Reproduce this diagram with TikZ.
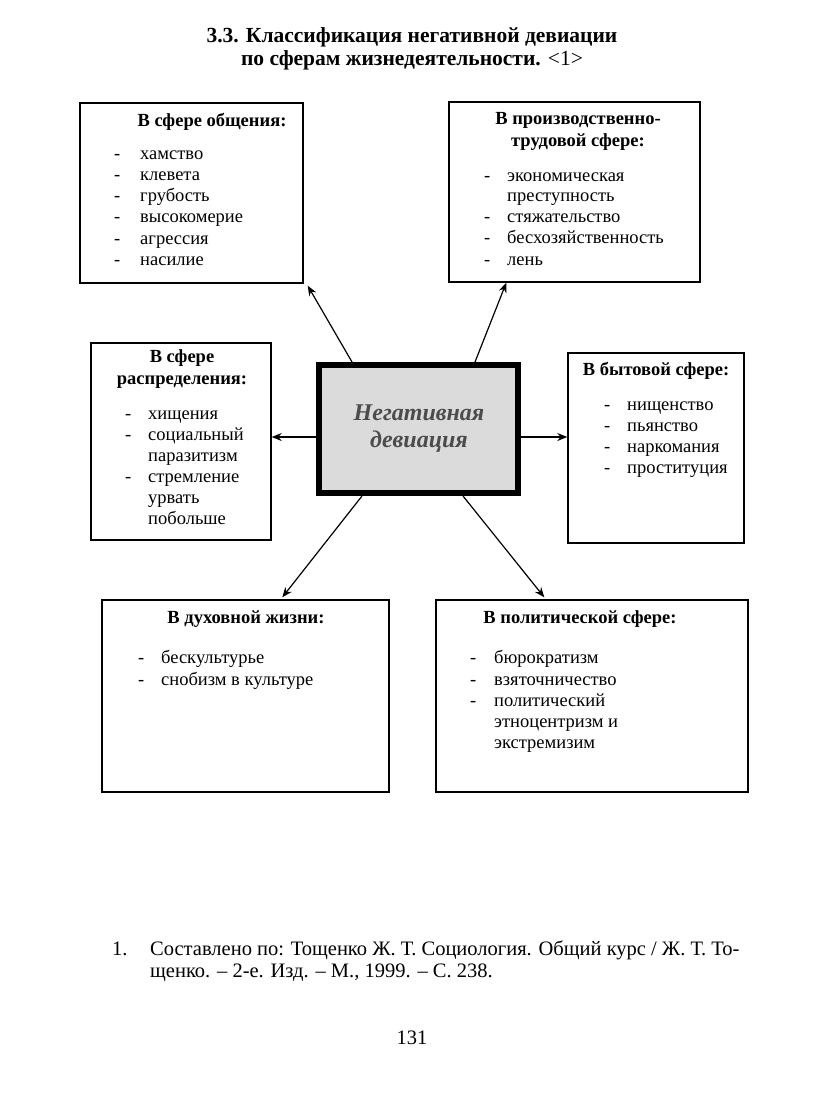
\documentclass[tikz,border=0pt]{standalone}
\usepackage{fontspec}
\setmainfont{Liberation Serif}
\usetikzlibrary{arrows.meta,calc}
\begin{document}
\begin{tikzpicture}[x=1pt,y=-1pt,
  box/.style={draw,line width=1.4pt,minimum width=#1,inner sep=0pt},
  hd/.style={font=\fontsize{18.5}{22}\selectfont\bfseries,align=center,inner sep=0pt},
  it/.style={font=\fontsize{18.5}{21}\selectfont,anchor=mid west,inner sep=0pt},
  dsh/.style={font=\fontsize{18.5}{21}\selectfont,anchor=mid west,inner sep=0pt},
  arr/.style={line width=1.2pt,-{Stealth[length=10pt,width=8pt]}}]
\path[use as bounding box,fill=white] (0,0) rectangle (823,1098);
% title
\node[font=\fontsize{21.5}{24}\selectfont\bfseries,inner sep=0pt] (t1) at (412,37) {3.3. Классификация негативной девиации};
\node[font=\fontsize{21.5}{24}\selectfont,inner sep=0pt] (t2) at (412,60) {\bfseries по сферам жизнедеятельности. \mdseries<1>};
% boxes
\node[box=223pt,minimum height=180pt] (b1) at (191.5,193) {};
\node[box=251pt,minimum height=180pt] (b2) at (574.5,192) {};
\node[box=180pt,minimum height=197pt] (b3) at (181,441.5) {};
\node[box=176pt,minimum height=190pt] (b4) at (656,448) {};
\node[box=287pt,minimum height=192pt] (b5) at (245.5,696) {};
\node[box=312pt,minimum height=192pt] (b6) at (592,696) {};
\node[draw,line width=6pt,fill=gray!28,minimum width=199pt,minimum height=128pt,inner sep=0pt] (c) at (418.5,429) {};
\node[font=\fontsize{24}{27}\selectfont\bfseries\itshape,text=black!70,align=center,inner sep=0pt] (ct) at (419,429) {Негативная\\девиация};
% box 1
\node[hd] (h1) at (212,122) {В сфере общения:};
\foreach \t [count=\i] in {хамство,клевета,грубость,высокомерие,агрессия,насилие}{
  \node[dsh] (d1\i) at (114,{157+21.2*(\i-1)}) {-};
  \node[it] (i1\i) at (140,{157+21.2*(\i-1)}) {\t};}
% box 2
\node[hd] (h2) at (578,131) {В производственно-\\трудовой сфере:};
\node[dsh] (d21) at (484,179) {-};
\node[it] (i21) at (507,179) {экономическая};
\node[it] (i22) at (507,199) {преступность};
\node[dsh] (d23) at (484,220) {-};
\node[it] (i23) at (507,220) {стяжательство};
\node[dsh] (d24) at (484,241) {-};
\node[it] (i24) at (507,241) {бесхозяйственность};
\node[dsh] (d25) at (484,263) {-};
\node[it] (i25) at (507,263) {лень};
% box 3
\node[hd] (h3) at (182,369) {В сфере\\распределения:};
\node[dsh] (d31) at (125,417) {-};
\node[it] (i31) at (148,417) {хищения};
\node[dsh] (d32) at (125,438) {-};
\node[it] (i32) at (148,438) {социальный};
\node[it] (i33) at (148,459) {паразитизм};
\node[dsh] (d34) at (125,480) {-};
\node[it] (i34) at (148,480) {стремление};
\node[it] (i35) at (148,501) {урвать};
\node[it] (i36) at (148,522) {побольше};
% box 4
\node[hd] (h4) at (656,371) {В бытовой сфере:};
\foreach \t [count=\i] in {нищенство,пьянство,наркомания,проституция}{
  \node[dsh] (d4\i) at (604,{408+21*(\i-1)}) {-};
  \node[it] (i4\i) at (627,{408+21*(\i-1)}) {\t};}
% box 5
\node[hd] (h5) at (246,619) {В духовной жизни:};
\node[dsh] (d51) at (138,661) {-};
\node[it] (i51) at (161,661) {бескультурье};
\node[dsh] (d52) at (138,683) {-};
\node[it] (i52) at (161,683) {снобизм в культуре};
% box 6
\node[hd] (h6) at (580,619) {В политической сфере:};
\node[dsh] (d61) at (470,661) {-};
\node[it] (i61) at (494,661) {бюрократизм};
\node[dsh] (d62) at (470,683) {-};
\node[it] (i62) at (494,683) {взяточничество};
\node[dsh] (d63) at (470,704) {-};
\node[it] (i63) at (494,704) {политический};
\node[it] (i64) at (494,725) {этноцентризм и};
\node[it] (i65) at (494,746) {экстремизим};
% arrows
\draw[arr] ([xshift=36pt]c.north west) -- ([xshift=4pt,yshift=-2pt]b1.south east);
\draw[arr] ([xshift=-46pt]c.north east) -- ([xshift=58pt]b2.south west);
\draw[arr] ([yshift=-8pt]c.west) -- ([yshift=-8pt]c.west -| b3.east);
\draw[arr] ([yshift=-8pt]c.east) -- ([yshift=-8pt]c.east -| b4.west);
\draw[arr] ([xshift=46pt]c.south west) -- ([xshift=181pt,yshift=2pt]b5.north west);
\draw[arr] ([xshift=-58pt]c.south east) -- ([xshift=109pt,yshift=2pt]b6.north west);
% footnote
\node[font=\fontsize{20.5}{23}\selectfont,anchor=mid west,inner sep=0pt] (fn) at (112,953) {1.};
\node[font=\fontsize{20.5}{23}\selectfont,anchor=mid west,inner sep=0pt] (f1) at (150,953) {Составлено по: Тощенко Ж. Т. Социология. Общий курс / Ж. Т. То-};
\node[font=\fontsize{20.5}{23}\selectfont,anchor=mid west,inner sep=0pt] (f2) at (150,975) {щенко. – 2-е. Изд. – М., 1999. – С. 238.};
\node[font=\fontsize{20.5}{23}\selectfont,inner sep=0pt] (pg) at (412,1038) {131};
\end{tikzpicture}
\end{document}
